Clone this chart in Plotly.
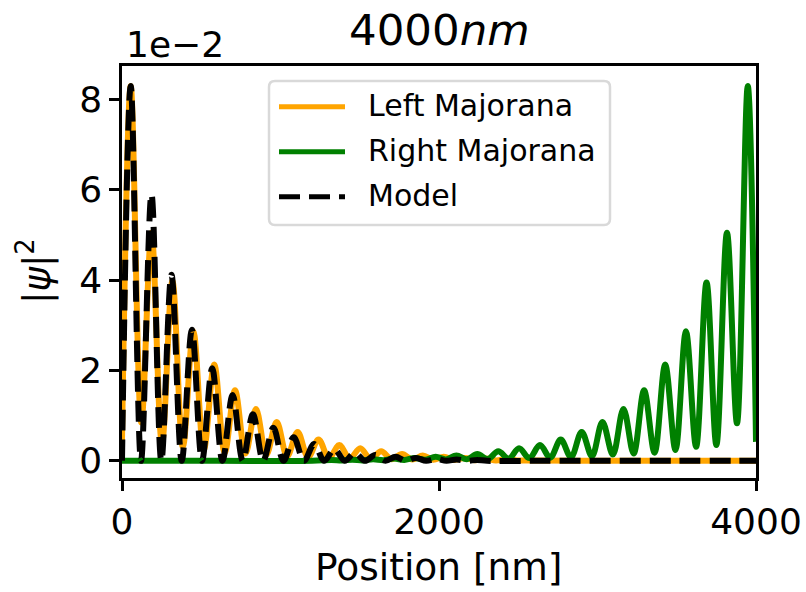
import plotly.graph_objects as go

# |psi|^2 along the wire, values in units of 1e-2 (peaks and troughs of each lobe)
left_x = [0, 55, 122, 186, 252, 318, 384, 450, 516, 582, 648, 713, 779, 845, 911,
          976, 1042, 1108, 1174, 1240, 1306, 1371, 1437, 1503, 1569, 1635, 1701,
          1767, 1833, 1898, 1964, 2030, 2096, 2162, 2228, 2293, 2359, 2425, 2491,
          2600, 3000, 3500, 4000]
left_y = [0.45, 8.30, 0.85, 5.05, 0.38, 3.98, 0.31, 2.87, 0.24, 2.13, 0.18, 1.56,
          0.16, 1.15, 0.14, 0.86, 0.10, 0.64, 0.08, 0.47, 0.06, 0.35, 0.05, 0.28,
          0.04, 0.21, 0.035, 0.15, 0.03, 0.12, 0.025, 0.09, 0.02, 0.065, 0.015,
          0.05, 0.01, 0.035, 0.01, 0.01, 0.0, 0.0, 0.0]

right_x = [0, 600, 1200, 1321, 1387, 1453, 1518, 1584, 1650, 1716, 1781, 1847,
           1913, 1979, 2044, 2110, 2176, 2242, 2308, 2374, 2440, 2505, 2570, 2637,
           2702, 2768, 2833, 2900, 2965, 3031, 3097, 3164, 3228, 3294, 3360, 3427,
           3492, 3558, 3622, 3688, 3750, 3817, 3880, 3948, 4000]
right_y = [0.0, 0.0, 0.0, 0.02, 0.01, 0.025, 0.01, 0.035, 0.015, 0.05, 0.02, 0.065,
           0.025, 0.09, 0.03, 0.12, 0.035, 0.15, 0.04, 0.21, 0.05, 0.28, 0.06, 0.35,
           0.07, 0.47, 0.08, 0.64, 0.10, 0.86, 0.14, 1.15, 0.16, 1.56, 0.18, 2.13,
           0.24, 2.87, 0.31, 3.95, 0.35, 5.05, 0.83, 8.30, 0.42]

model_x = [0, 55, 120, 186, 248, 312, 377, 441, 505, 569, 634, 698, 762, 826, 891,
           955, 1019, 1083, 1148, 1212, 1276, 1340, 1405, 1469, 1533, 1597, 1662,
           1726, 1790, 1854, 1919, 1983, 2047, 2111, 2176, 2240, 2304, 2600, 3000,
           3500, 4000]
model_y = [0.0, 8.30, 0.0, 5.90, 0.0, 4.12, 0.0, 2.90, 0.0, 2.05, 0.0, 1.46, 0.0,
           1.03, 0.0, 0.73, 0.0, 0.52, 0.0, 0.37, 0.0, 0.26, 0.0, 0.18, 0.0, 0.13,
           0.0, 0.09, 0.0, 0.065, 0.0, 0.045, 0.0, 0.03, 0.0, 0.02, 0.0, 0.0, 0.0,
           0.0, 0.0]

x_ticks = [0, 2000, 4000]
y_ticks = [0, 2, 4, 6, 8]
legend_names = ["Left Majorana", "Right Majorana", "Model"]
colors = ["#FFA500", "#008000", "#000000"]

FONT = "DejaVu Sans"
W, H = 806, 592
L, R, T, B = 122, 50, 66, 114
PW, PH = W - L - R, H - T - B
LW = 6
DASH = "21px,9px"


def px_x(px):
    return (px - L) / PW


def px_y(py):
    return (H - B - py) / PH


fig = go.Figure()
fig.add_trace(go.Scatter(x=left_x, y=left_y, mode="lines", name=legend_names[0],
                         line=dict(color=colors[0], width=LW, shape="spline"),
                         showlegend=False))
fig.add_trace(go.Scatter(x=right_x, y=right_y, mode="lines", name=legend_names[1],
                         line=dict(color=colors[1], width=LW, shape="spline"),
                         showlegend=False))
fig.add_trace(go.Scatter(x=model_x, y=model_y, mode="lines", name=legend_names[2],
                         line=dict(color=colors[2], width=LW, shape="spline",
                                   dash=DASH),
                         showlegend=False))

axis_common = dict(showline=True, mirror=True, linecolor="black", linewidth=2.5,
                   ticks="outside", ticklen=10, tickwidth=2.5, tickcolor="black",
                   showgrid=False, zeroline=False, automargin=False,
                   tickfont=dict(family=FONT, size=36, color="black"))

fig.update_xaxes(range=[0, 4000], tickvals=x_ticks,
                 ticktext=[str(v) for v in x_ticks], **axis_common)
fig.update_yaxes(range=[-0.38, 8.74], tickvals=y_ticks,
                 ticktext=[str(v) for v in y_ticks], **axis_common)

# legend frame with rounded corners
x0, x1 = px_x(269), px_x(610)
y0, y1 = px_y(225), px_y(81)
rx, ry = 6 / PW, 6 / PH
frame = (f"M{x0 + rx},{y1} L{x1 - rx},{y1} Q{x1},{y1} {x1},{y1 - ry} "
         f"L{x1},{y0 + ry} Q{x1},{y0} {x1 - rx},{y0} L{x0 + rx},{y0} "
         f"Q{x0},{y0} {x0},{y0 + ry} L{x0},{y1 - ry} Q{x0},{y1} {x0 + rx},{y1} Z")
shapes = [dict(type="path", xref="paper", yref="paper", path=frame,
               fillcolor="rgba(255,255,255,0.8)",
               line=dict(color="#d9d9d9", width=2.5))]
annotations = []
rows = [106.7, 151.7, 196.7]
for name, col, row in zip(legend_names, colors, rows):
    shapes.append(dict(type="line", xref="paper", yref="paper",
                       x0=px_x(279), x1=px_x(345), y0=px_y(row), y1=px_y(row),
                       line=dict(color=col, width=5,
                                 dash=DASH if name == "Model" else "solid")))
    annotations.append(dict(text=name, xref="paper", yref="paper",
                            x=px_x(366), y=px_y(row - 1), xanchor="left",
                            yanchor="middle", showarrow=False,
                            font=dict(family=FONT, size=30, color="black")))

annotations += [
    dict(text="4000<i>nm</i>", xref="paper", yref="paper", x=0.5, y=px_y(30),
         xanchor="center", yanchor="middle", showarrow=False,
         font=dict(family=FONT, size=43.5, color="black")),
    dict(text="1e\u22122", xref="paper", yref="paper", x=px_x(124), y=px_y(44),
         xanchor="left", yanchor="middle", showarrow=False,
         font=dict(family=FONT, size=36, color="black")),
    dict(text="|<i>\u03c8</i>|<sup>2</sup>", xref="paper", yref="paper",
         x=px_x(34), y=px_y(271), xanchor="center", yanchor="middle",
         textangle=-90, showarrow=False,
         font=dict(family=FONT, size=37, color="black")),
    dict(text="Position [nm]", xref="paper", yref="paper", x=0.5, y=px_y(591),
         xanchor="center", yanchor="bottom", showarrow=False,
         font=dict(family=FONT, size=37.5, color="black")),
]

fig.update_layout(width=W, height=H, margin=dict(l=L, r=R, t=T, b=B),
                  paper_bgcolor="white", plot_bgcolor="white",
                  shapes=shapes, annotations=annotations,
                  font=dict(family=FONT, color="black"))

fig.write_html("out.html")
